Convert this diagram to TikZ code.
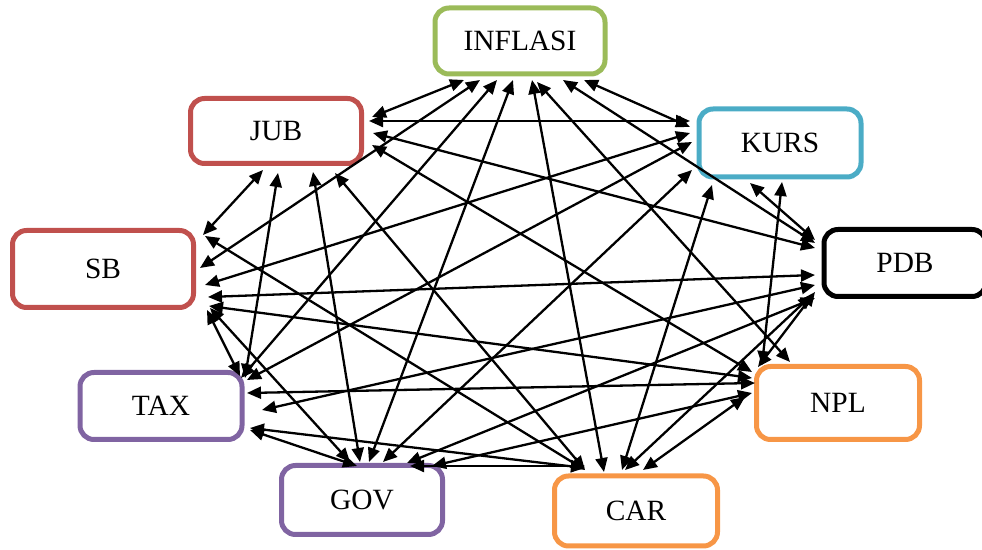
\documentclass[tikz,border=0pt]{standalone}
\usepackage{fontspec}
\setmainfont{Liberation Serif}
\usetikzlibrary{arrows.meta,calc}
\definecolor{vgreen}{RGB}{155,187,89}
\definecolor{vred}{RGB}{192,80,77}
\definecolor{vblue}{RGB}{75,172,198}
\definecolor{vpurple}{RGB}{128,100,162}
\definecolor{vorange}{RGB}{247,150,70}
\tikzset{
  varbox/.style={draw=#1, line width=2.5pt, rounded corners=7pt, inner sep=0pt, font=\fontsize{14.7}{17}\selectfont},
  link/.style={{Triangle[length=7pt,width=6pt]}-{Triangle[length=7pt,width=6pt]}, line width=1.15pt}
}

\begin{document}
\begin{tikzpicture}[x=0.5pt, y=-0.5pt]
\clip (0,0) rectangle (982,550);
\node[varbox=vgreen, minimum width=85pt, minimum height=33pt] (inf) at (520,41) {INFLASI};
\node[varbox=vred, minimum width=85.5pt, minimum height=32.5pt] (jub) at (276,131) {JUB};
\node[varbox=vblue, minimum width=81pt, minimum height=34pt] (kurs) at (780,143) {KURS};
\node[varbox=vred, minimum width=90.5pt, minimum height=38.5pt] (sb) at (103,269) {SB};
\node[varbox=black, minimum width=81pt, minimum height=33.5pt] (pdb) at (905,263) {PDB};
\node[varbox=vpurple, minimum width=81pt, minimum height=33.5pt] (tax) at (161,406) {TAX};
\node[varbox=vorange, minimum width=81.5pt, minimum height=36.5pt] (npl) at (838,403) {NPL};
\node[varbox=vpurple, minimum width=80.5pt, minimum height=34.5pt] (gov) at (362,500) {GOV};
\node[varbox=vorange, minimum width=81.5pt, minimum height=35pt] (car) at (636,511) {CAR};
% INFLASI
\draw[link] ($(inf)+(-56,39)$) -- ($(jub)+(96,-14)$);
\draw[link] ($(inf)+(64,39)$) -- ($(kurs)+(-90,-16)$);
\draw[link] ($(inf)+(-40,39)$) -- ($(sb)+(97,-1)$);
\draw[link] ($(inf)+(43,39)$) -- ($(pdb)+(-90,-20)$);
\draw[link] ($(inf)+(-23,39)$) -- ($(tax)+(80,-28)$);
\draw[link] ($(inf)+(17,41)$) -- ($(npl)+(-48,-41)$);
\draw[link] ($(inf)+(-7,39)$) -- ($(gov)+(7,-38)$);
\draw[link] ($(inf)+(12,39)$) -- ($(car)+(-32,-39)$);
% JUB
\draw[link] ($(jub)+(93,-10)$) -- ($(kurs)+(-90,-22)$);
\draw[link] ($(jub)+(-13,39)$) -- ($(sb)+(100,-34)$);
\draw[link] ($(jub)+(97,2)$) -- ($(pdb)+(-90,-15)$);
\draw[link] ($(jub)+(2,42)$) -- ($(tax)+(84,-28)$);
\draw[link] ($(jub)+(96,14)$) -- ($(npl)+(-86,-31)$);
\draw[link] ($(jub)+(37,41)$) -- ($(gov)+(-2,-38)$);
\draw[link] ($(jub)+(59,42)$) -- ($(car)+(-51,-41)$);
% KURS
\draw[link] ($(kurs)+(-90,-10)$) -- ($(sb)+(102,16)$);
\draw[link] ($(kurs)+(-30,40)$) -- ($(pdb)+(-90,-23)$);
\draw[link] ($(kurs)+(-88,-1)$) -- ($(tax)+(86,-26)$);
\draw[link] ($(kurs)+(2,39)$) -- ($(npl)+(-76,-38)$);
\draw[link] ($(kurs)+(-88,27)$) -- ($(gov)+(21,-38)$);
\draw[link] ($(kurs)+(-68,42)$) -- ($(car)+(-14,-41)$);
% SB
\draw[link] ($(sb)+(105,28)$) -- ($(pdb)+(-90,12)$);
\draw[link] ($(sb)+(104,41)$) -- ($(tax)+(79,-30)$);
\draw[link] ($(sb)+(106,37)$) -- ($(npl)+(-86,-25)$);
\draw[link] ($(sb)+(107,39)$) -- ($(gov)+(-12,-38)$);
\draw[link] ($(sb)+(102,-33)$) -- ($(car)+(-51,-41)$);
% PDB
\draw[link] ($(pdb)+(-90,22)$) -- ($(tax)+(101,4)$);
\draw[link] ($(pdb)+(-90,29)$) -- ($(npl)+(-80,-36)$);
\draw[link] ($(pdb)+(-90,35)$) -- ($(gov)+(45,-37)$);
\draw[link] ($(pdb)+(-93,32)$) -- ($(car)+(-11,-41)$);
% TAX, NPL, GOV
\draw[link] ($(tax)+(86,-13)$) -- ($(npl)+(-83,-20)$);
\draw[link] ($(tax)+(89,24)$) -- ($(gov)+(-5,-34)$);
\draw[link] ($(tax)+(89,22)$) -- ($(car)+(-51,-43)$);
\draw[link] ($(npl)+(-86,-10)$) -- ($(gov)+(70,-34)$);
\draw[link] ($(npl)+(-93,-6)$) -- ($(car)+(7,-41)$);
\draw[link] ($(gov)+(48,-34)$) -- ($(car)+(-51,-45)$);
\end{tikzpicture}
\end{document}
